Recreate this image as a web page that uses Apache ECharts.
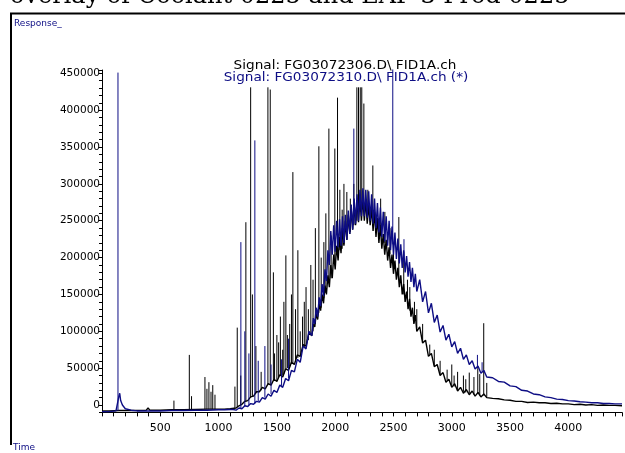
<!DOCTYPE html>
<html><head><meta charset="utf-8">
<script src="https://cdn.jsdelivr.net/npm/echarts/dist/echarts.min.js"></script>
<style>html,body{margin:0;padding:0;background:#fff}#c{width:625px;height:453px}</style>
</head><body><div id="c"></div>
<script>
// ---- texts ----
const titleText = 'overlay of Coolant 0225 and EAF 3 Prod 0225';
const signal1Label = 'Signal: FG03072306.D\\ FID1A.ch';
const signal2Label = 'Signal: FG03072310.D\\ FID1A.ch (*)';
const yAxisName = 'Response_';
const xAxisName = 'Time';
const xTickLabels = [500, 1000, 1500, 2000, 2500, 3000, 3500, 4000];
const yTickLabels = [0, 50000, 100000, 150000, 200000, 250000, 300000, 350000, 400000, 450000];

// ---- black trace (FG03072306): [time, response in thousands] ----
const blackTrace = [[0,-8],[60,-8],[150,-7.5],[250,-7.5],[380,-7],[395,-4],[410,-7],[500,-7],[600,-6.5],[700,-6.5],[800,-6],[900,-5.5],[1000,-5.5],[1050,-5.5],[1100,-5],
[1150,-4],[1175,-1],[1200,1],[1225,5],[1250,6],[1275,11],[1300,12],[1325,18],[1350,18],[1375,24],[1400,22],[1425,29],[1450,27],[1475,35],[1500,32],[1525,41],[1550,38],[1575,49],[1600,47],[1625,58],[1650,55],[1675,68],[1700,66],[1725,82],[1750,80],[1775,98],
[1800,94],[1812.5,110],[1825,106],[1837.5,124],[1850,116],[1862.5,138],[1875,128],[1887.5,150],[1900,138],[1912.5,162],[1925,150],[1937.5,176],[1950,160],[1962.5,190],[1975,172],[1987.5,204],[2000,184],[2012.5,216],[2025,196],[2037.5,228],[2050,206],[2062.5,240],[2075,216],[2087.5,250],[2100,224],[2112.5,258],[2125,232],[2137.5,266],[2150,238],[2162.5,272],[2175,244],[2187.5,278],[2200,248],[2212.5,282],[2225,250],[2237.5,282],[2250,250],[2262.5,278],[2275,246],[2287.5,272],[2300,244],[2312.5,268],[2325,236],[2337.5,262],[2350,228],[2362.5,254],[2375,220],[2387.5,244],[2400,212],[2412.5,232],[2425,204],[2437.5,224],[2450,196],[2462.5,214],[2475,186],[2487.5,204],[2500,178],[2512.5,196],[2525,170],[2537.5,186],[2550,160],[2562.5,176],[2575,150],[2587.5,164],[2600,140],[2612.5,154],[2625,130],[2637.5,144],[2650,120],[2662.5,132],[2675,110],[2687.5,122],[2700,100],
[2725,106],[2750,84],[2775,88],[2800,66],[2825,70],[2850,52],[2875,55],[2900,40],[2925,44],[2950,31],[2975,35],[3000,24],[3025,29],[3050,19],[3075,24],[3100,16],[3125,21],[3150,14],[3175,19],[3200,12],[3225,17],[3250,11],[3275,15],[3300,10],
[3350,9],[3400,8.5],[3450,7],[3500,6.5],[3550,5],[3600,5],[3650,3.5],[3700,4],[3750,3],[3800,3],[3850,2],[3900,2.5],[3950,1.5],[4000,1.5],[4050,0.5],[4100,1],[4150,0],[4200,0.5],[4250,-0.5],[4300,0],[4350,-0.5],[4400,-0.5],[4460,-1]];
// black peaks: [time, base (k), apex (k)]
const blackPeaks = [[617,-6.5,6],[749,-6.5,68],[768,-6.5,12],[883,-6,38],[900,-6,22],[917,-6,31],[935,-6,18],[950,-6,27],[969,-6,14],
[1140,-4,25],[1160,-3,105],[1190,0,40],[1234,4,248],[1275,10,431],[1290,11,150],[1320,16,80],[1365,20,45],[1423,27,431],[1443,28,428],[1470,33,180],[1480,34,70],[1500,33,95],[1515,38,85],[1530,40,120],[1550,40,75],[1560,42,140],[1577,48,203],[1590,50,95],[1610,52,110],[1625,56,150],[1637,56,316],[1660,60,130],[1680,64,210],[1700,66,100],[1720,75,120],[1735,78,140],[1750,80,160],[1770,88,130],[1791,95,190],[1810,100,170],[1830,110,240],[1860,125,351],[1880,132,200],[1903,145,221],[1920,152,260],[1946,165,375],[1965,172,230],[1997,190,348],[2020,205,417],[2040,210,292],[2060,212,265],[2075,218,300],[2100,225,289],[2130,235,280],[2160,244,300],[2186,250,431],[2200,255,431],[2215,262,431],[2228,265,431],[2246,262,409],[2280,262,292],[2323,258,325],[2390,230,280],[2426,220,262],[2470,205,240],[2500,188,220],[2546,170,255],[2588,150,208],[2620,140,170],[2640,128,160],[2680,112,140],[2700,104,130],[2750,86,110],[2811,68,82],[2850,54,75],[2900,42,60],[2960,33,48],[3000,26,55],[3020,25,40],[3050,21,45],[3100,18,40],[3120,17,35],[3150,16,44],[3190,14,38],[3223,15,50],[3240,13,42],[3274,13,111],[3300,11,30]];

// ---- blue trace (FG03072310): [time, response in thousands] ----
const blueTrace = [[0,-9],[60,-9],[120,-8],[130,-8],[145,12],[152,16],[160,6],[175,0],[200,-5],[250,-7],[300,-8],[400,-8],[500,-8],[600,-7.5],[700,-7.5],[800,-7],[900,-7],[1000,-6.5],[1050,-6.5],[1100,-6],[1125,-6],
[1150,-7],[1175,-4],[1200,-5],[1225,-1],[1250,-2],[1275,2],[1300,1],[1325,5],[1350,4],[1375,10],[1400,8],[1425,15],[1450,12],[1475,20],[1500,17],[1525,27],[1550,24],[1575,36],[1600,33],[1625,47],[1650,45],[1675,62],[1700,58],[1725,80],[1750,76],[1775,100],
[1800,94],[1812.5,118],[1825,110],[1837.5,132],[1850,120],[1862.5,146],[1875,134],[1887.5,164],[1900,148],[1912.5,184],[1925,168],[1937.5,210],[1950,190],[1962.5,236],[1975,204],[1987.5,244],[2000,208],[2012.5,250],[2025,214],[2037.5,252],[2050,216],[2062.5,256],[2075,220],[2087.5,258],[2100,224],[2112.5,264],[2125,232],[2137.5,272],[2150,238],[2162.5,280],[2175,246],[2187.5,286],[2200,250],[2212.5,292],[2225,256],[2237.5,294],[2250,256],[2262.5,292],[2275,254],[2287.5,290],[2300,250],[2312.5,286],[2325,246],[2337.5,280],[2350,240],[2362.5,274],[2375,234],[2387.5,268],[2400,228],[2412.5,262],[2425,222],[2437.5,256],[2450,216],[2462.5,250],[2475,210],[2487.5,242],[2500,204],[2512.5,234],[2525,198],[2537.5,226],[2550,192],[2562.5,218],[2575,186],[2587.5,210],[2600,180],[2612.5,202],[2625,174],[2637.5,194],[2650,167],[2662.5,186],[2675,160],[2687.5,178],[2700,154],
[2725,170],[2750,140],[2775,154],[2800,125],[2825,138],[2850,112],[2875,122],[2900,99],[2925,108],[2950,88],[2975,96],[3000,79],[3025,86],[3050,70],[3075,77],[3100,62],[3125,68],[3150,55],[3175,60],[3200,49],[3225,53],[3250,43],[3275,47],[3300,38],
[3350,37],[3400,32],[3450,31],[3500,26],[3550,25],[3600,20],[3650,19],[3700,15],[3750,14],[3800,11],[3850,10],[3900,8],[3950,7.5],[4000,6],[4050,5.5],[4100,4.5],[4150,4],[4200,3],[4250,3],[4300,2],[4350,2],[4400,1.5],[4460,1.5]];
const bluePeaks = [[137,-8,451],[1191,-4,221],[1225,-2,100],[1260,0,70],[1311,2,359],[1340,5,60],[1397,10,80],[1450,15,55],[1540,26,62],[1600,36,90],[2160,245,375],[2494,218,458],[2590,195,225],[3220,50,68],[3260,45,58]];

// ---- build ----
const K = 1000;
const BLACK = '#000000', BLUE = '#0d0d84';
const FONT = 'DejaVu Sans';
function trace(p){ return p.map(d => [d[0], d[1]*K]); }
function peaks(p){ const o=[]; p.forEach(d => { o.push([d[0], d[1]*K]); o.push([d[0], d[2]*K]); o.push([d[0], null]); }); return o; }
function lineSeries(name, data, color, z, w){
  return {name, type:'line', data, showSymbol:false, symbol:'none', connectNulls:false, clip:true, z,
    lineStyle:{color, width:w}, itemStyle:{color}, emphasis:{disabled:true}, animation:false};
}

const chart = echarts.init(document.getElementById('c'), null, {renderer:'canvas', width:625, height:453, devicePixelRatio:1});
chart.setOption({
  animation:false,
  backgroundColor:'#ffffff',
  grid:{left:102, right:3, top:70, bottom:40.6, outerBoundsMode:'none', containLabel:false},
  xAxis:{type:'value', min:0, max:4460, interval:100,
    axisLine:{show:true, onZero:false, lineStyle:{color:'#000', width:1}},
    axisTick:{show:true, length:4, lineStyle:{color:'#000', width:1}},
    splitLine:{show:false},
    axisLabel:{color:'#000', fontFamily:FONT, fontSize:11, margin:10,
      formatter: v => xTickLabels.indexOf(v) >= 0 ? String(v) : ''}},
  yAxis:{type:'value', min:-10000, max:454500, interval:10000,
    axisLine:{show:true, onZero:false, lineStyle:{color:'#000', width:1}},
    axisTick:{show:true, length:3, lineStyle:{color:'#000', width:1}},
    splitLine:{show:false},
    axisLabel:{color:'#000', fontFamily:FONT, fontSize:10.5, margin:2,
      formatter: v => yTickLabels.indexOf(v) >= 0 ? String(v) : ''}},
  series:[
    lineSeries(signal1Label, trace(blackTrace), BLACK, 2, 1.4),
    lineSeries(signal1Label + ' peaks', peaks(blackPeaks), BLACK, 3, 1),
    lineSeries(signal2Label, trace(blueTrace), BLUE, 4, 1.4),
    lineSeries(signal2Label + ' peaks', peaks(bluePeaks), BLUE, 5, 1)
  ],
  graphic:[
    {type:'line', shape:{x1:10, y1:13.5, x2:625, y2:13.5}, style:{stroke:'#000', lineWidth:2}, silent:true},
    {type:'line', shape:{x1:11, y1:13, x2:11, y2:445}, style:{stroke:'#000', lineWidth:2}, silent:true},
    {type:'text', x:10, y:-3.3, style:{text:titleText, font:'24px "DejaVu Serif"', fill:'#000', textAlign:'left', textVerticalAlign:'middle'}, silent:true},
    {type:'text', x:14, y:24, style:{text:yAxisName, font:'9px "DejaVu Sans"', fill:BLUE, textAlign:'left', textVerticalAlign:'middle'}, silent:true},
    {type:'text', x:13, y:448, style:{text:xAxisName, font:'9px "DejaVu Sans"', fill:BLUE, textAlign:'left', textVerticalAlign:'middle'}, silent:true},
    {type:'text', x:345, y:66, originX:0, scaleX:1.09, style:{text:signal1Label, font:'12.5px "DejaVu Sans"', fill:'#000', textAlign:'center', textVerticalAlign:'middle'}, silent:true},
    {type:'text', x:346, y:77.5, originX:0, scaleX:1.09, style:{text:signal2Label, font:'12.5px "DejaVu Sans"', fill:BLUE, textAlign:'center', textVerticalAlign:'middle'}, silent:true}
  ]
});
</script></body></html>
